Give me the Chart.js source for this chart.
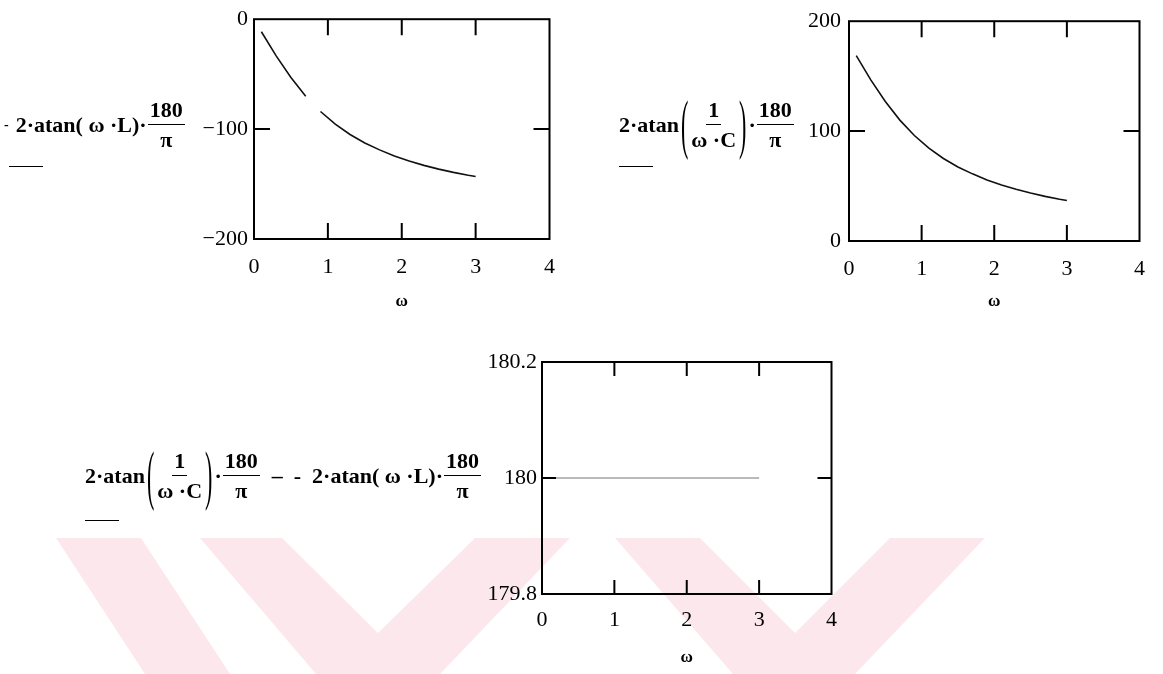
<!DOCTYPE html>
<html>
<head>
<meta charset="utf-8">
<script src="https://cdn.jsdelivr.net/npm/chart.js@4.4.0/dist/chart.umd.min.js"></script>
<style>
  body { margin: 0; width: 1163px; height: 674px; background: #fff; position: relative; overflow: hidden; font-family: "Liberation Serif", serif; }
  #mark { position: absolute; left: 0; top: 0; }
  canvas.plot { position: absolute; }
  .expr { position: absolute; display: flex; align-items: center; transform: translateY(-50%); font-weight: bold; font-size: 22px; color: #000; white-space: pre; }
  .frac { display: inline-flex; flex-direction: column; align-items: center; margin: 0 1px; }
  .frac .num { border-bottom: 1.5px solid #000; padding: 0 2px 3px; line-height: 1; }
  .frac .den { padding-top: 4px; line-height: 1; }
  .paren { display: inline-block; transform: scaleY(3); font-weight: normal; margin: 0 2px; }
  .trace { position: absolute; width: 34px; height: 0; border-top: 1.5px solid #000; }
</style>
</head>
<body>
<canvas id="mark" width="1163" height="674"></canvas>

<canvas id="plotL" class="plot" width="370" height="320" style="left:200px; top:0px"></canvas>
<canvas id="plotC" class="plot" width="370" height="320" style="left:790px; top:0px"></canvas>
<canvas id="plotSum" class="plot" width="370" height="334" style="left:480px; top:340px"></canvas>

<!-- y-axis expressions, Mathcad style -->
<div class="expr" style="left:4px; top:125px">
  <span style="font-size:14px">-  </span><span>2·atan( ω ·L)·</span><span class="frac"><span class="num">180</span><span class="den">π</span></span>
</div>
<div class="trace" style="left:9px; top:166px"></div>

<div class="expr" style="left:619px; top:125px">
  <span>2·atan</span><span class="paren">(</span><span class="frac"><span class="num">1</span><span class="den">ω ·C</span></span><span class="paren">)</span><span>·</span><span class="frac"><span class="num">180</span><span class="den">π</span></span>
</div>
<div class="trace" style="left:619px; top:166px"></div>

<div class="expr" style="left:85px; top:476px">
  <span>2·atan</span><span class="paren">(</span><span class="frac"><span class="num">1</span><span class="den">ω ·C</span></span><span class="paren">)</span><span>·</span><span class="frac"><span class="num">180</span><span class="den">π</span></span><span>  –  -  2·atan( ω ·L)·</span><span class="frac"><span class="num">180</span><span class="den">π</span></span>
</div>
<div class="trace" style="left:85px; top:520px"></div>

<script>
// sample points of omega and the phase angles (degrees)
const omega = [0.1, 0.3, 0.5, 0.7, 0.9, 1.1, 1.3, 1.5, 1.7, 1.9, 2.1, 2.3, 2.5, 2.7, 2.9, 3.0];
const phaseL = [-11.4, -33.4, -53.1, -70.0, -84.0, -95.5, -104.9, -112.6, -118.9, -124.5, -129.1, -133.0, -136.4, -139.4, -142.0, -143.1];
const phaseC = [168.6, 146.6, 126.9, 110.0, 96.0, 84.5, 75.1, 67.4, 61.1, 55.5, 50.9, 47.0, 43.6, 40.6, 38.0, 36.9];
const phaseSum = [180, 180, 180, 180, 180, 180, 180, 180, 180, 180, 180, 180, 180, 180, 180, 180];

const xTicks = [0, 1, 2, 3, 4];
const yTicksL = [-200, -100, 0];
const yTicksC = [0, 100, 200];
const yTicksSum = [179.8, 180, 180.2];

const serif = 'Liberation Serif';

// light watermark shapes behind everything
const mk = document.getElementById('mark').getContext('2d');
mk.fillStyle = '#fce8ec';
[
  [[56, 538], [141, 538], [230, 674], [145, 674]],
  [[200, 538], [282, 538], [378, 633], [475, 538], [570, 538], [440, 674], [316, 674]],
  [[615, 538], [700, 538], [795, 633], [890, 538], [985, 538], [855, 674], [733, 674]]
].forEach(poly => {
  mk.beginPath();
  poly.forEach(([px, py], i) => i ? mk.lineTo(px, py) : mk.moveTo(px, py));
  mk.closePath();
  mk.fill();
});

// box round the plot area plus the short inner tick marks
const frame = {
  id: 'frame',
  afterDatasetsDraw(chart, args, o) {
    const { ctx, chartArea: a, scales: { x, y } } = chart;
    ctx.save();
    ctx.strokeStyle = '#000';
    ctx.lineWidth = 2;
    ctx.strokeRect(a.left, a.top, a.right - a.left, a.bottom - a.top);
    ctx.beginPath();
    xTicks.slice(1, -1).forEach(v => {
      const px = x.getPixelForValue(v);
      ctx.moveTo(px, a.top); ctx.lineTo(px, a.top + o.len);
      ctx.moveTo(px, a.bottom); ctx.lineTo(px, a.bottom - o.len);
    });
    const py = y.getPixelForValue(o.mid);
    ctx.moveTo(a.left, py); ctx.lineTo(a.left + o.len, py);
    ctx.moveTo(a.right, py); ctx.lineTo(a.right - o.len, py);
    ctx.stroke();
    ctx.restore();
  }
};

function plot(id, values, yTicks, o) {
  return new Chart(document.getElementById(id), {
    type: 'line',
    data: {
      datasets: [{
        data: omega.map((w, i) => ({ x: w, y: values[i] })),
        borderColor: o.color,
        borderWidth: o.width,
        pointRadius: 0,
        tension: 0,
        segment: {
          borderColor: c => (o.gaps || []).includes(c.p0DataIndex) ? 'rgba(0,0,0,0)' : o.color
        }
      }]
    },
    options: {
      responsive: false,
      animation: false,
      layout: { padding: { top: o.top, right: o.right, left: 0, bottom: 0 } },
      plugins: {
        legend: { display: false },
        tooltip: { enabled: false },
        frame: { len: o.len, mid: yTicks[1] }
      },
      scales: {
        x: {
          type: 'linear', min: 0, max: 4,
          afterBuildTicks: s => { s.ticks = xTicks.map(v => ({ value: v })); },
          afterFit: s => { s.height = o.xh; },
          grid: { display: false, drawTicks: false },
          border: { display: false },
          ticks: { padding: o.xpad, color: '#000', maxRotation: 0, autoSkip: false, font: { family: serif, size: 22 } },
          title: { display: true, text: 'ω', color: '#000', font: { family: serif, size: 17, weight: 'bold' }, padding: { top: 0, bottom: o.tpad } }
        },
        y: {
          type: 'linear', min: yTicks[0], max: yTicks[2],
          afterBuildTicks: s => { s.ticks = yTicks.map(v => ({ value: v })); },
          afterFit: s => { s.width = o.yw; },
          grid: { display: false, drawTicks: false },
          border: { display: false },
          ticks: {
            padding: o.ypad, color: '#000', font: { family: serif, size: 22 },
            callback: v => String(v).replace('-', '\u2212')
          }
        }
      }
    },
    plugins: [frame]
  });
}

plot('plotL', phaseL, yTicksL, { color: '#111', width: 1.6, gaps: [3], top: 8, right: 16, yw: 54, xh: 81, xpad: 15, ypad: 6, tpad: 8, len: 16 });
plot('plotC', phaseC, yTicksC, { color: '#111', width: 1.6, top: 9, right: 15, yw: 59, xh: 79, xpad: 15, ypad: 8, tpad: 8, len: 16 });
plot('plotSum', phaseSum, yTicksSum, { color: '#777', width: 1.2, top: 22, right: 14, yw: 62, xh: 80, xpad: 13, ypad: 5, tpad: 6, len: 14 });
</script>
</body>
</html>
